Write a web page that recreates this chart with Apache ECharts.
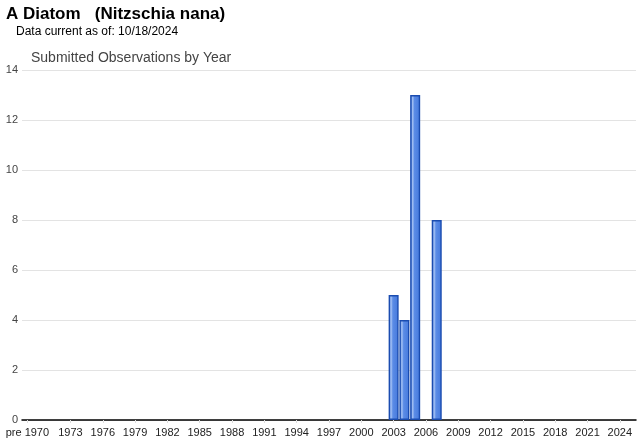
<!DOCTYPE html>
<html><head><meta charset="utf-8">
<script src="https://cdn.jsdelivr.net/npm/echarts@6/dist/echarts.min.js"></script>
<style>html,body{margin:0;padding:0;background:#fff}#c{width:640px;height:442px}</style>
</head><body><div id="c"></div>
<script>
const titleText = "A Diatom   (Nitzschia nana)";
const subText = "Data current as of: 10/18/2024";
const chartTitle = "Submitted Observations by Year";
const categories = ["pre 1970"];
for (let y = 1970; y <= 2025; y++) categories.push(String(y));
const obsYears = ["2003", "2004", "2005", "2007"];
const obsCounts = [5, 4, 13, 8];
const values = categories.map(c => { const i = obsYears.indexOf(c); return i >= 0 ? obsCounts[i] : '-'; });
const yTicks = [0, 2, 4, 6, 8, 10, 12, 14];

const showIdx = i => i === 0 || (i >= 4 && (i - 1) % 3 === 0);
const chart = echarts.init(document.getElementById('c'), null, {renderer: 'canvas'});
chart.setOption({
  animation: false,
  textStyle: {fontFamily: 'Liberation Sans, Arial, sans-serif'},
  graphic: [
    {type: 'text', left: 6, top: 6, style: {text: titleText, font: 'bold 17px "Liberation Sans", Arial', fill: '#000'}},
    {type: 'text', left: 16, top: 26, style: {text: subText, font: '12px "Liberation Sans", Arial', fill: '#000'}},
    {type: 'text', left: 31, top: 51, style: {text: chartTitle, font: '14px "Liberation Sans", Arial', fill: '#444'}}
  ],
  grid: {left: 22, right: 4, top: 70, bottom: 22, containLabel: false},
  xAxis: {
    type: 'category', data: categories,
    axisLine: {lineStyle: {color: '#000', width: 1.5}},
    axisTick: {show: true, alignWithLabel: true, interval: (i) => showIdx(i), length: 3, lineStyle: {color: '#ddd'}},
    axisLabel: {interval: (i) => showIdx(i), color: '#222', fontSize: 11, margin: 7, fontFamily: 'Liberation Sans, Arial'}
  },
  yAxis: {
    type: 'value', min: yTicks[0], max: yTicks[yTicks.length - 1], interval: 2,
    axisLine: {show: false}, axisTick: {show: false},
    splitLine: {lineStyle: {color: '#e3e3e3'}},
    axisLabel: {color: '#444', fontSize: 11, margin: 4, fontFamily: 'Liberation Sans, Arial'}
  },
  series: [{
    type: 'bar', data: values, barWidth: 10, z: 1,
    itemStyle: {
      borderColor: '#1a4cb0', borderWidth: 1.4,
      color: new echarts.graphic.LinearGradient(0, 0, 1, 0, [
        {offset: 0, color: '#3a6dd6'},
        {offset: 0.25, color: '#a4c1f3'},
        {offset: 0.42, color: '#5b8ce6'},
        {offset: 1, color: '#4478dc'}
      ])
    }
  }]
});
</script></body></html>
